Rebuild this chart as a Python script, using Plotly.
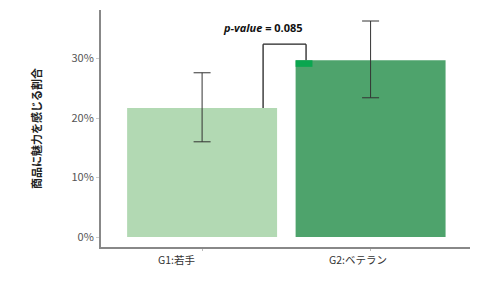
import plotly.graph_objects as go

categories = ["G1:若手", "G2:ベテラン"]
values = [0.217, 0.297]
err_upper = [0.276, 0.363]
err_lower = [0.160, 0.234]
bar_colors = ["#b2d9b3", "#4ea36c"]
p_text = "<i>p-value</i> = 0.085"
y_title = "商品に魅力を感じる割合"
tick_vals = [0, 0.1, 0.2, 0.3]
tick_text = ["0%", "10%", "20%", "30%"]

xs = list(range(len(categories)))
fig = go.Figure()
fig.add_trace(go.Bar(
    x=xs, y=values, width=0.89,
    marker=dict(color=bar_colors, line=dict(width=0)),
    error_y=dict(type="data", symmetric=False,
                 array=[u - v for u, v in zip(err_upper, values)],
                 arrayminus=[v - l for v, l in zip(values, err_lower)],
                 color="#333333", thickness=1, width=8.5),
    showlegend=False,
))

font_jp = "Noto Sans CJK JP"
top = max(values) + 0.027
bx0 = xs[0] + 0.362
bx1 = xs[1] - 0.383
line = dict(color="#222222", width=1.3)
fig.add_shape(type="line", x0=bx0, x1=bx0, y0=values[0], y1=top, line=line)
fig.add_shape(type="line", x0=bx0, x1=bx1, y0=top, y1=top, line=line)
fig.add_shape(type="line", x0=bx1, x1=bx1, y0=top, y1=values[1], line=line)
fig.add_shape(type="rect", x0=xs[1] - 0.445, x1=xs[1] - 0.345,
              y0=values[1] - 0.011, y1=values[1],
              fillcolor="#0aa64f", line=dict(width=0))
fig.add_annotation(x=bx0, y=top + 0.028, text="<b>" + p_text + "</b>", showarrow=False,
                   font=dict(family="Open Sans", size=11, color="#111111"), xanchor="center")

offsets = [-26, -13]
for x, c, o in zip(xs, categories, offsets):
    fig.add_annotation(x=x, xshift=o, y=0, yref="paper", yshift=-3, yanchor="top",
                       text=c, showarrow=False,
                       font=dict(family=font_jp, size=10.5, color="#333333"))

fig.update_layout(
    width=500, height=281,
    margin=dict(l=101, r=30, t=10, b=34),
    plot_bgcolor="white", paper_bgcolor="white",
    xaxis=dict(range=[-0.6, 1.59], tickvals=xs, ticktext=["", ""],
               showline=True, linecolor="#888888", linewidth=2,
               ticks="outside", ticklen=2, tickcolor="#bbbbbb",
               showgrid=False, zeroline=False, fixedrange=True),
    yaxis=dict(range=[-0.0168, 0.3815], tickvals=tick_vals, ticktext=tick_text,
               showline=True, linecolor="#888888", linewidth=2,
               ticks="outside", ticklen=3, tickcolor="#cccccc",
               tickfont=dict(family=font_jp, size=11, color="#555555"),
               showgrid=False, zeroline=False,
               title=dict(text="<b>" + y_title + "</b>", standoff=28,
                          font=dict(family=font_jp, size=11, color="#222222"))),
)
fig.write_html("out.html")
